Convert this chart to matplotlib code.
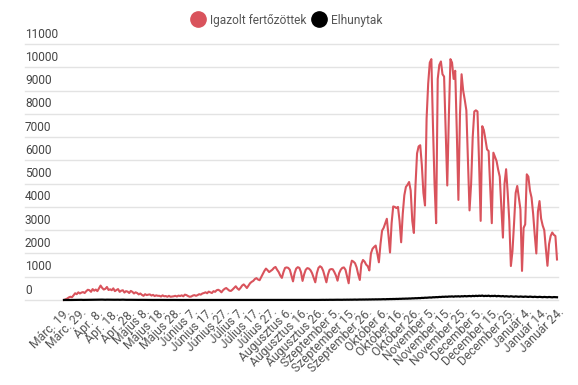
import matplotlib
matplotlib.use("Agg")
import matplotlib.pyplot as plt
from matplotlib.lines import Line2D
import matplotlib.transforms as mtrans
import pandas as pd

# ---------------- data ----------------
start_date = "2020-03-19"
end_date = "2021-01-24"
missing_date = "2020-09-20"   # one day absent from the category axis

month_names = {1: "Január", 3: "Márc.", 4: "Ápr.", 5: "Május", 6: "Június",
               7: "Július", 8: "Augusztus", 9: "Szeptember", 10: "Október",
               11: "November", 12: "December"}

confirmed = [
    0, 30, 60, 110, 140, 120, 200, 290, 250, 330,
    280, 320, 340, 300, 380, 440, 420, 350, 470, 400,
    450, 380, 500, 620, 520, 450, 480, 560, 430, 460,
    420, 500, 380, 430, 470, 350, 400, 420, 320, 380,
    360, 300, 390, 350, 280, 330, 300, 240, 280, 220,
    180, 250, 210, 230, 240, 190, 220, 170, 200, 180,
    180, 150, 200, 160, 170, 140, 180, 140, 150, 160,
    180, 150, 190, 170, 200, 160, 230, 210, 170, 140,
    150, 190, 210, 180, 210, 250, 230, 280, 300, 330,
    290, 360, 330, 300, 380, 350, 420, 440, 400, 330,
    420, 480, 515, 460, 400, 390, 450, 520, 590, 500,
    440, 520, 620, 670, 600, 515, 620, 720, 780, 820,
    900, 940, 880, 850, 980, 1120, 1250, 1350, 1280, 1200,
    1250, 1300, 1380, 1420, 1300, 1200,
    1050, 950, 1200, 1380, 1400, 1380, 1300, 1050, 800,
    1150, 1350, 1410, 1380, 1200, 820,
    1100, 1300, 1370, 1350, 1280, 1150, 950, 760,
    1150, 1380, 1450, 1400, 1250, 1000, 760,
    1100, 1300, 1330, 1320, 1200, 1050, 830,
    1150, 1300, 1380, 1400, 1300, 1000, 720,
    1400, 1690, 1650, 1580, 1400, 1100, 860,
    1550, 1720, 1650, 1520, 1450, 1270,
    2000, 2200, 2280, 2340, 2000, 1620,
    2400, 2980, 3100, 3300, 3490, 2800, 2040,
    3300, 4020, 4000, 3950, 4000, 3400, 2480,
    3700, 4500, 4860, 4950, 5070, 4700, 3400, 2880,
    4900, 6300, 6600, 6650, 5800, 4600, 4060,
    7800, 9300, 10200, 10350, 7500, 5000, 3300,
    9500, 10100, 10250, 9700, 9600, 7300, 4920,
    7900, 10350, 10200, 9500, 9850, 7200, 4300,
    8000, 9700, 9000, 8600, 8150, 6000, 3850,
    5000, 7000, 8100, 8150, 8100, 5900, 3400,
    7470, 7300, 6900, 6470, 6400, 4800, 3300,
    6330, 6150, 5970, 5600, 5300, 4000, 2680,
    5000, 5620, 4600, 3400, 1460,
    2100, 3300, 4600, 4900, 4400, 3900, 1250,
    3100, 3250, 5400, 5300, 4700, 4400, 3700, 2800, 2000,
    3800, 4250, 3500, 3200, 3000, 2200, 1470,
    2400, 2750, 2900, 2800, 2750, 1740,
]

deaths = [
    1, 0, 2, 1, 3, 2, 1, 4, 5, 2,
    6, 8, 4, 5, 7, 9, 10, 6, 12, 11,
    9, 14, 13, 11, 16, 12, 10, 14, 13, 12,
    15, 11, 10, 13, 12, 9, 11, 14, 10, 8,
    9, 12, 8, 7, 10, 6, 8, 5, 7, 6,
    5, 4, 6, 3, 5, 4, 2, 3, 4, 2,
    3, 2, 1, 2, 3, 1, 2, 0, 1, 2,
    1, 0, 2, 1, 0, 1, 1, 0, 2, 1,
    0, 1, 0, 1, 1, 0, 0, 1, 0, 1,
    0, 0, 1, 0, 0, 1, 0, 0, 0, 1,
    0, 1, 0, 0, 1, 0, 0, 0, 1, 0,
    0, 1, 0, 0, 0, 1, 0, 0, 0, 0,
    1, 0, 0, 0, 1, 0, 0, 1, 0, 0,
    0, 1, 0, 0, 1, 0, 1, 0, 0, 1,
    0, 1, 1, 0, 2, 1, 0, 1, 2, 1,
    2, 1, 3, 2, 2, 4, 3, 3, 5, 4,
    4, 6, 5, 7, 5, 8, 6, 9, 7, 8,
    10, 9, 11, 10, 12, 9, 13, 11, 14, 12,
    15, 13, 16, 18, 14, 17, 20, 18, 21, 19,
    23, 20, 25, 22, 27, 24, 29, 26, 30, 28,
    32, 35, 30, 38, 36, 41, 39, 44, 42, 48,
    45, 52, 50, 57, 55, 61, 58, 66, 63, 72,
    70, 78, 75, 84, 80, 92, 88, 99, 96, 105,
    110, 104, 118, 115, 124, 120, 132, 128, 140, 135,
    145, 138, 150, 147, 155, 142, 158, 152, 160, 148,
    163, 155, 170, 158, 165, 172, 160, 178, 166, 182,
    170, 185, 175, 190, 168, 180, 172, 186, 164, 176,
    170, 182, 160, 175, 165, 158, 170, 150, 162, 155,
    145, 160, 150, 140, 155, 145, 138, 150, 142, 135,
    148, 140, 132, 145, 138, 128, 140, 130, 125, 136,
    128, 120, 132, 125, 118, 130, 122, 115, 126, 120,
    118,
]

y_ticks = [0, 1000, 2000, 3000, 4000, 5000, 6000, 7000, 8000, 9000, 10000, 11000]
label_step = 10

series_names = ["Igazolt fertőzöttek", "Elhunytak"]
series_colors = ["#d9535c", "#000000"]

# ---------------- categories ----------------
dates = pd.date_range(start_date, end_date)
dates = dates[dates != pd.Timestamp(missing_date)]
n = min(len(dates), len(confirmed), len(deaths))
dates = dates[:n]
x = list(range(n))
categories = [f"{month_names[d.month]} {d.day}." for d in dates]

# ---------------- figure ----------------
plt.rcParams["font.family"] = ["Roboto", "DejaVu Sans"]
W, H = 578, 385
fig = plt.figure(figsize=(W / 100, H / 100), dpi=100)

ax_left, ax_right = 25, 558
y0_px, ytop_px = 300, 44
ax = fig.add_axes([ax_left / W, 1 - y0_px / H,
                   (ax_right - ax_left) / W, (y0_px - ytop_px) / H])

px_per_cat = (557 - 64) / 310.0
xmin = -(64 - ax_left) / px_per_cat
xmax = xmin + (ax_right - ax_left) / px_per_cat
ax.set_xlim(xmin, xmax)
ax.set_ylim(0, 11000)

for s in ax.spines.values():
    s.set_visible(False)

# gridlines
for t in y_ticks:
    ax.axhline(t, color="#e3e3e3", lw=1.0, zorder=0, clip_on=False)
# y labels (sitting above gridlines, left aligned)
trans = mtrans.blended_transform_factory(ax.transAxes, ax.transData)
offset = mtrans.ScaledTranslation(0, 2.5 / 72, fig.dpi_scale_trans)
for t in y_ticks:
    ax.text(0.0, t, str(t), transform=trans + offset, ha="left", va="bottom",
            fontsize=8.6, color="#444444")
ax.set_yticks([])

ax.plot(x, confirmed[:n], color=series_colors[0], lw=1.5, zorder=3,
        clip_on=False, solid_joinstyle="round")
ax.plot(x, deaths[:n], color=series_colors[1], lw=1.6, zorder=4,
        clip_on=False, solid_joinstyle="round")

tick_pos = x[::label_step]
ax.set_xticks(tick_pos)
ax.set_xticklabels([categories[i] for i in tick_pos], rotation=45,
                   ha="right", rotation_mode="anchor", fontsize=8.7,
                   color="#555555")
ax.tick_params(axis="x", length=0, pad=4)

handles = [Line2D([], [], marker="o", ls="none", markersize=11,
                  markerfacecolor=c, markeredgecolor=c) for c in series_colors]
fig.legend(handles, series_names, loc="center", bbox_to_anchor=(0.497, 0.948),
           ncol=2, frameon=False, fontsize=8.6, handletextpad=0.5,
           columnspacing=0.5, labelcolor="#555555", handlelength=1.0)

fig.savefig("out.png", dpi=100)
